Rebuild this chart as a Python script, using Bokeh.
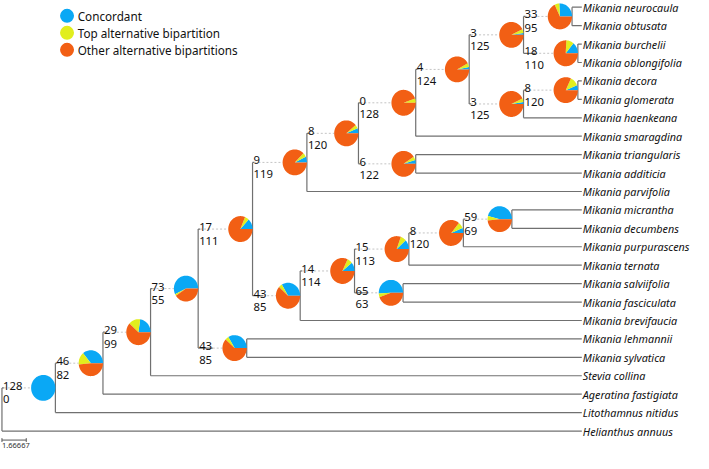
import numpy as np
from bokeh.plotting import figure
from bokeh.models import Range1d
from bokeh.embed import file_html
from bokeh.resources import INLINE
from bokeh.core.properties import value

# ---------------- data ----------------
tip_names = ["Mikania neurocaula", "Mikania obtusata", "Mikania burchelii", "Mikania oblongifolia",
             "Mikania decora", "Mikania glomerata", "Mikania haenkeana", "Mikania smaragdina",
             "Mikania triangularis", "Mikania additicia", "Mikania parvifolia", "Mikania micrantha",
             "Mikania decumbens", "Mikania purpurascens", "Mikania ternata", "Mikania salviifolia",
             "Mikania fasciculata", "Mikania brevifaucia", "Mikania lehmannii", "Mikania sylvatica",
             "Stevia collina", "Ageratina fastigiata", "Litothamnus nitidus", "Helianthus annuus"]
tip_parents = ["U", "U", "V", "V", "W", "W", "T", "O", "P", "P", "H", "N", "N", "M", "K", "L", "L",
               "G", "F", "F", "C", "B", "A", "R"]

node_names   = ["A", "B", "C", "D", "E", "F", "H", "G", "I", "J", "O", "P", "K", "L", "Q", "M", "N",
                "S", "T", "U", "V", "W"]
node_parents = ["R", "A", "B", "C", "D", "D", "E", "E", "H", "G", "I", "I", "J", "J", "O", "K", "M",
                "Q", "Q", "S", "S", "T"]
node_depth   = [3.667, 6.933, 10.2, 13.467, 17.2, 16.8, 20.93, 20.47, 24.47, 24.2, 28.4, 28.4, 27.93,
                27.53, 32.07, 31.67, 35.0, 35.8, 35.8, 39.13, 39.53, 39.53]
node_branch  = [0.13, 0.13, 0.13, 0.13, 0.13, 1.0, 0.13, 0.73, 0.13, 0.13, 0.13, 0.13, 0.13, 0.87,
                0.13, 0.13, 0.13, 0.13, 0.13, 0.13, 0.8, 0.13]
concordant   = [128, 46, 29, 73, 17, 43, 9, 43, 8, 14, 0, 6, 15, 65, 4, 8, 59, 3, 3, 33, 18, 8]
conflicting  = [0, 82, 99, 55, 111, 85, 119, 85, 120, 114, 128, 122, 113, 63, 124, 120, 69, 125, 125,
                95, 110, 120]
top_alternative = [0, 20, 20, 3, 7, 6, 7, 6, 6, 9, 7, 6, 10, 6, 6, 10, 7, 6, 6, 8, 13, 15]

root_name = "R"
root_depth = 0.0
tip_depth = 39.8
scale_bar_length = 1.66667
scale_bar_label = "1.66667"

legend_labels = ["Concordant", "Top alternative bipartition", "Other alternative bipartitions"]
pie_colors = ["#0aa8f5", "#e1ee1e", "#f25f14"]

# ---------------- layout helpers ----------------
PX_X = 15.0      # reference px per tree unit
PX_Y = 19.2      # reference px per tip
RX = 12.5 / PX_X
RY = 13.5 / PX_Y
LINE = "#707070"
DOT = "#c4c4c4"
FONT = value("Noto Sans")

depth = {root_name: root_depth}
for n, d in zip(node_names, node_depth):
    depth[n] = d
for t in tip_names:
    depth[t] = tip_depth

children = {}
for t, par in zip(tip_names, tip_parents):
    children.setdefault(par, []).append(t)
for n, par in zip(node_names, node_parents):
    children.setdefault(par, []).append(n)

ypos = {t: float(i) for i, t in enumerate(tip_names)}


def gety(n):
    if n not in ypos:
        ys = [gety(c) for c in children[n]]
        ypos[n] = (min(ys) + max(ys)) / 2
    return ypos[n]


for n in [root_name] + node_names:
    gety(n)

p = figure(width=693, height=453, output_backend="svg", toolbar_location=None, min_border=0,
           x_range=Range1d(-1.5 / PX_X, 712 / PX_X), y_range=Range1d((470 - 5) / PX_Y, -7 / PX_Y))
p.axis.visible = False
p.grid.visible = False
p.outline_line_color = None
p.background_fill_color = "white"

# vertical node lines
vx0, vy0, vx1, vy1 = [], [], [], []
for n in [root_name] + node_names:
    ys = [ypos[c] for c in children[n]]
    vx0.append(depth[n]); vx1.append(depth[n]); vy0.append(min(ys)); vy1.append(max(ys))
p.segment(vx0, vy0, vx1, vy1, line_color=LINE, line_width=1.2)

# tip branches
tx0 = [depth[par] for par in tip_parents]
ty = [ypos[t] for t in tip_names]
p.segment(tx0, ty, [tip_depth] * len(tip_names), ty, line_color=LINE, line_width=1.2)

# internal branches: solid part + dotted extension
sx0, sx1, sy, dx0, dx1 = [], [], [], [], []
for n, par, bl in zip(node_names, node_parents, node_branch):
    sx0.append(depth[par]); sx1.append(depth[par] + bl); sy.append(ypos[n])
    dx0.append(depth[par] + bl); dx1.append(depth[n] - 2 * RX)
p.segment(dx0, sy, dx1, sy, line_color=DOT, line_width=1, line_dash="2 2")
p.segment(sx0, sy, sx1, sy, line_color=LINE, line_width=1.2)

# pies
for ci in range(3):
    xs, ys = [], []
    for n, c, k, t in zip(node_names, concordant, conflicting, top_alternative):
        total = c + k
        parts = [c, t, k - t]
        start = sum(parts[:ci]) / total * 2 * np.pi
        end = sum(parts[:ci + 1]) / total * 2 * np.pi
        if end - start <= 0:
            continue
        cx = depth[n] - RX
        cy = ypos[n]
        ang = np.linspace(start, end, max(3, int((end - start) / (2 * np.pi) * 90)))
        full = end - start >= 2 * np.pi - 1e-9
        px = list(cx + RX * np.cos(ang)) if full else [cx] + list(cx + RX * np.cos(ang))
        py = list(cy - RY * np.sin(ang)) if full else [cy] + list(cy - RY * np.sin(ang))
        xs.append(px); ys.append(py)
    p.patches(xs, ys, fill_color=pie_colors[ci], line_color=None)

# support labels
lx = [depth[par] for par in node_parents]
ly = [ypos[n] for n in node_names]
p.text(lx, ly, text=[str(v) for v in concordant], x_offset=1, y_offset=-2,
       text_baseline="alphabetic", text_font=FONT, text_font_size="11.3px", text_color="#111111")
p.text(lx, ly, text=[str(v) for v in conflicting], x_offset=1, y_offset=11.5,
       text_baseline="alphabetic", text_font=FONT, text_font_size="11.3px", text_color="#111111")

# tip labels
p.text([tip_depth] * len(tip_names), ty, text=tip_names, x_offset=1, text_baseline="middle",
       text_font=FONT, text_font_style="italic", text_font_size="10.8px", text_color="#111111")

# scale bar
sb_y = (456 - 5) / PX_Y
p.segment([root_depth], [sb_y], [root_depth + scale_bar_length], [sb_y], line_color="#555555", line_width=1)
p.segment([root_depth, root_depth + scale_bar_length], [sb_y - 2 / PX_Y] * 2,
          [root_depth, root_depth + scale_bar_length], [sb_y + 2 / PX_Y] * 2, line_color="#555555", line_width=1)
p.text([root_depth], [sb_y], text=[scale_bar_label], y_offset=3, text_baseline="top",
       text_font=FONT, text_font_size="7.5px", text_color="#333333")

# legend
leg_x = (68 - 1) / PX_X
leg_y = [(14 - 5 + 17.7 * i) / PX_Y for i in range(len(legend_labels))]
p.scatter([leg_x] * 3, leg_y, size=14, fill_color=pie_colors, line_color=None)
p.text([(79 - 1) / PX_X] * 3, leg_y, text=legend_labels, text_baseline="middle",
       text_font=FONT, text_font_size="11.7px", text_color="#111111")

open("out.html", "w").write(file_html(p, INLINE))
